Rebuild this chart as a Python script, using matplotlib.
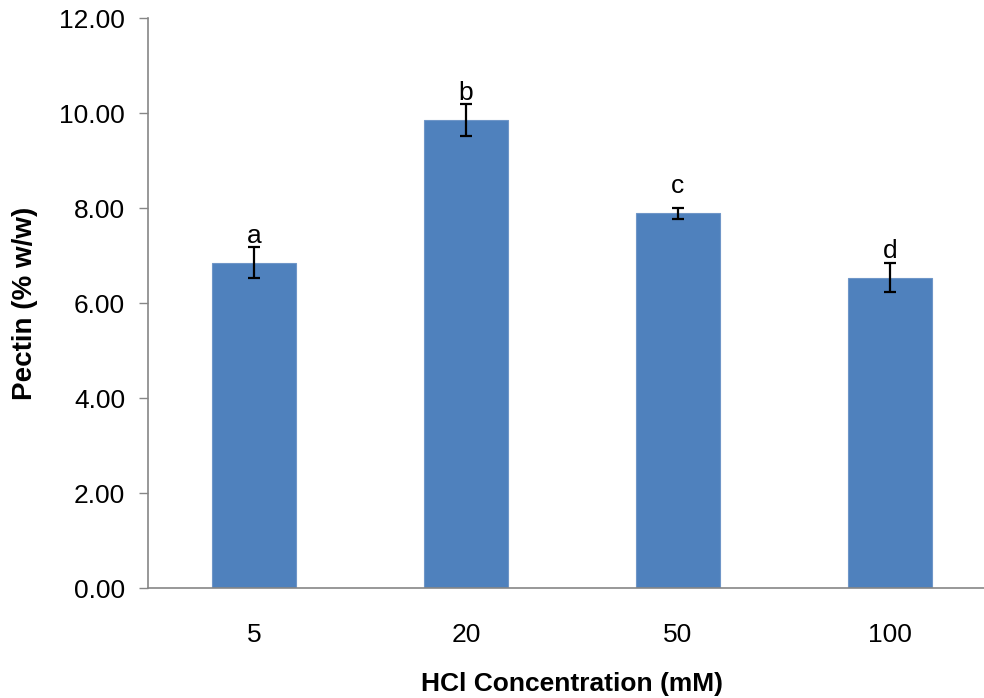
import numpy as np
import matplotlib
matplotlib.use('Agg')
import matplotlib.pyplot as plt

plt.rcParams['font.family'] = ['Liberation Sans', 'DejaVu Sans']

# data
concentrations = ['5', '20', '50', '100']
pectin = [6.85, 9.86, 7.89, 6.54]
pectin_err = [0.33, 0.33, 0.11, 0.31]
letters = ['a', 'b', 'c', 'd']
letter_gap = [0.08, 0.08, 0.32, 0.10]

fig = plt.figure(figsize=(9.84, 6.98), dpi=100)
ax = fig.add_axes([148 / 984, 110 / 698, 848 / 984, 569.7 / 698])

x = np.arange(len(concentrations))
ax.bar(x, pectin, width=0.4, color='#4F81BD', edgecolor='#6f96c8', linewidth=0.8,
       yerr=pectin_err, error_kw=dict(ecolor='black', elinewidth=1.6, capsize=4.5, capthick=1.6))

for xi, v, e, lab, g in zip(x, pectin, pectin_err, letters, letter_gap):
    ax.text(xi, v + e + g, lab, ha='center', va='baseline', fontsize=19)

ax.set_xlim(-0.5, 3.5)
ax.set_ylim(0, 12)
ax.set_yticks(np.arange(0, 12.01, 2))
ax.set_yticklabels([f'{t:.2f}' for t in np.arange(0, 12.01, 2)])
ax.set_xticks(x)
ax.set_xticklabels(concentrations)

ax.spines['top'].set_visible(False)
ax.spines['right'].set_visible(False)
for s in ['left', 'bottom']:
    ax.spines[s].set_color('#868686')
    ax.spines[s].set_linewidth(1.2)

ax.tick_params(axis='y', direction='out', length=6.5, width=1, color='#868686',
               labelsize=19, pad=10)
ax.tick_params(axis='x', length=0, labelsize=19, pad=25)

ax.set_xlabel('HCl Concentration (mM)', fontsize=19, fontweight='bold', labelpad=18)
ax.set_ylabel('Pectin (% w/w)', fontsize=20, fontweight='bold')
ax.yaxis.set_label_coords(-110 / 848, 0.5)

fig.savefig('out.png', dpi=100)
